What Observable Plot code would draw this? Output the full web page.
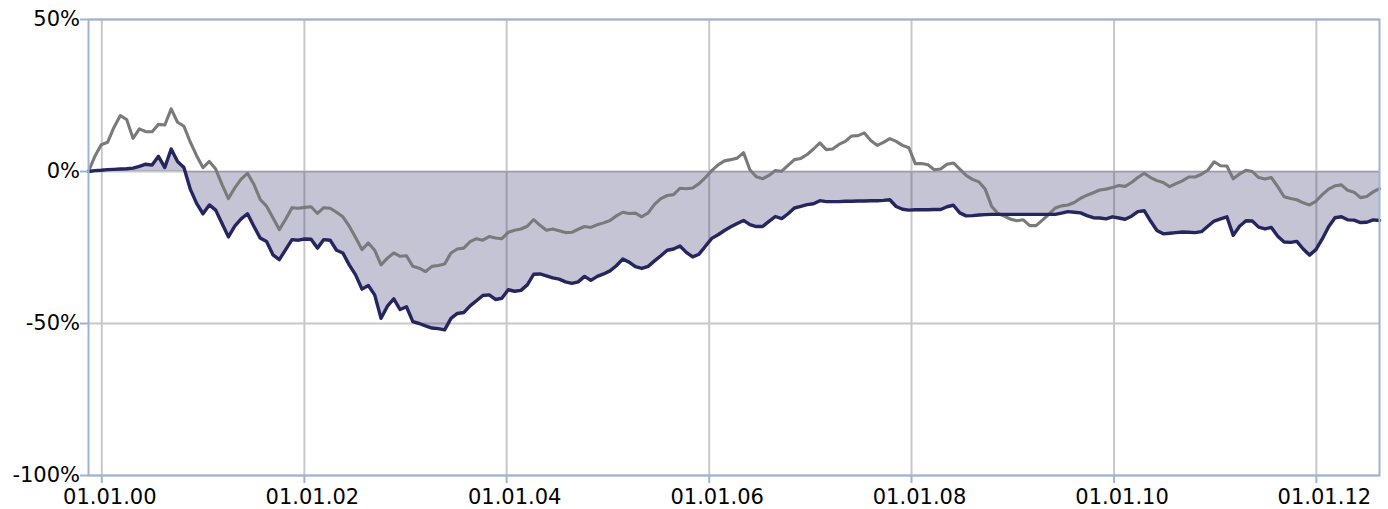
<!DOCTYPE html>
<html><head><meta charset="utf-8">
<script src="https://cdn.jsdelivr.net/npm/d3@7"></script>
<script src="https://cdn.jsdelivr.net/npm/@observablehq/plot@0.6"></script>
<style>body{margin:0;background:#fff} svg{display:block}</style>
</head><body><div id="chart"></div>
<script>
const startDate = "1999-11-14";
const stepDays = 22.95;
const grayValues = [
0,5.0,8.8,9.6,14.5,18.4,17.1,10.9,14.0,13.1,13.1,15.5,15.3,20.6,16.2,14.9,9.7,5.2,1.3,3.3,
0.8,-4.3,-8.9,-5.4,-2.5,-0.6,-4.2,-9.2,-11.4,-15.2,-19.1,-15.7,-11.9,-12.1,-11.8,-11.6,-13.8,-11.9,-12.1,-13.4,
-14.9,-18.0,-21.7,-25.7,-23.5,-25.9,-30.7,-28.5,-26.8,-27.9,-27.7,-31.2,-31.8,-32.9,-31.2,-30.9,-30.4,-26.8,-25.5,-25.2,
-23.1,-22.1,-22.6,-21.4,-21.9,-22.1,-20.0,-19.3,-18.9,-18.0,-15.8,-17.7,-19.3,-18.9,-19.5,-20.1,-20.0,-19.0,-18.1,-18.4,
-17.5,-16.9,-16.1,-14.6,-13.4,-13.8,-13.7,-14.9,-13.6,-10.8,-8.9,-7.9,-7.6,-5.5,-5.7,-5.4,-4.0,-2.0,0.3,2.2,
3.5,3.9,4.4,6.2,0.6,-1.7,-2.4,-1.3,0.3,0.1,2.0,3.9,4.3,5.6,7.4,9.4,7.2,7.4,8.9,9.9,
11.7,11.8,12.7,10.2,8.6,9.6,10.8,9.9,8.6,7.8,2.6,2.6,2.2,0.6,0.8,2.4,2.8,0.8,-1.3,-2.6,
-3.4,-5.8,-11.4,-13.8,-14.7,-15.7,-16.2,-15.9,-17.8,-17.8,-16.0,-14.1,-12.0,-11.3,-11.0,-10.2,-8.8,-7.8,-7.0,-6.1,
-5.8,-5.3,-4.6,-4.9,-3.6,-2.0,-0.6,-2.0,-3.0,-3.6,-5.0,-4.0,-3.1,-1.8,-1.8,-0.9,0.4,3.2,1.9,1.8,
-2.4,-0.8,0.4,0.0,-2.0,-2.5,-2.0,-5.0,-8.3,-8.9,-9.3,-10.3,-11.0,-9.8,-7.6,-5.8,-4.7,-4.4,-6.2,-6.8,
-8.6,-8.2,-6.7,-5.6
];
const navyValues = [
0,0.3,0.4,0.6,0.7,0.8,0.9,1.1,1.7,2.4,2.1,5.0,1.3,7.4,3.3,1.3,-5.8,-10.5,-13.9,-11.0,
-12.7,-17.1,-21.5,-18.0,-15.6,-13.9,-18.0,-21.9,-23.0,-27.4,-29.0,-25.7,-22.4,-22.6,-22.2,-22.3,-25.2,-22.4,-22.6,-25.9,
-26.8,-30.7,-34.0,-38.7,-37.5,-40.6,-48.3,-44.3,-41.9,-45.4,-44.5,-49.4,-50.0,-50.8,-51.5,-51.7,-52.1,-48.3,-46.7,-46.4,
-44.2,-42.5,-40.8,-40.6,-42.1,-41.7,-38.9,-39.4,-39.1,-37.3,-33.8,-33.7,-34.3,-35.0,-35.4,-36.3,-36.8,-36.3,-34.5,-35.8,
-34.5,-33.7,-32.7,-31.0,-28.8,-29.8,-31.3,-31.9,-31.2,-29.4,-27.7,-25.9,-25.5,-24.5,-26.6,-28.1,-27.2,-24.6,-22.0,-20.8,
-19.4,-18.2,-17.1,-16.1,-17.5,-18.1,-18.1,-16.4,-14.8,-15.5,-13.9,-12.0,-11.5,-10.9,-10.6,-9.6,-9.9,-9.9,-9.9,-9.8,
-9.8,-9.7,-9.7,-9.6,-9.6,-9.5,-9.3,-11.5,-12.4,-12.7,-12.6,-12.6,-12.6,-12.5,-12.5,-11.6,-11.1,-13.6,-14.6,-14.5,
-14.3,-14.2,-14.1,-14.1,-14.1,-14.1,-14.1,-14.1,-14.1,-14.1,-14.1,-14.1,-14.1,-13.7,-13.2,-13.4,-13.6,-14.5,-15.2,-15.3,
-15.6,-14.9,-15.3,-15.7,-14.7,-13.2,-12.9,-16.3,-19.4,-20.5,-20.3,-20.1,-19.9,-20.0,-20.1,-19.8,-18.0,-16.3,-15.6,-14.9,
-21.0,-18.0,-16.2,-16.3,-18.3,-18.9,-18.4,-21.3,-23.2,-23.3,-23.0,-25.5,-27.5,-25.7,-22.2,-18.2,-15.2,-14.9,-15.9,-16.0,
-16.8,-16.7,-15.9,-16.1
];
const xTickYears = [2000, 2002, 2004, 2006, 2008, 2010, 2012];
const yTicks = [50, 0, -50, -100];

const t0 = Date.parse(startDate + "T00:00:00Z");
const dates = grayValues.map((_, i) => new Date(t0 + i * stepDays * 864e5));
const rows = dates.map((d, i) => ({date: d, gray: grayValues[i], navy: navyValues[i]}));
const xTicks = xTickYears.map(y => new Date(Date.UTC(y, 0, 1)));

const frameColor = "#9fb3d9";
const gridColor = "#c8c8c8";
const plot = Plot.plot({
  width: 1388, height: 509,
  marginLeft: 88, marginRight: 9, marginTop: 19, marginBottom: 34,
  style: {fontFamily: "DejaVu Sans", fontSize: "21px", color: "#000", background: "#fff", overflow: "visible"},
  x: {type: "utc", domain: [dates[0], dates[dates.length - 1]]},
  y: {domain: [-100, 50]},
  marks: [
    Plot.ruleX(xTicks, {stroke: gridColor, strokeWidth: 2}),
    Plot.ruleY(yTicks, {stroke: gridColor, strokeWidth: 2}),
    Plot.areaY(rows, {x: "date", y1: 0, y2: "navy", fill: "#24245f", fillOpacity: 0.27}),
    Plot.lineY(rows, {x: "date", y: "gray", stroke: "#7a7a7a", strokeWidth: 3.1}),
    Plot.lineY(rows, {x: "date", y: "navy", stroke: "#25255f", strokeWidth: 3.4}),
    Plot.frame({stroke: frameColor, strokeWidth: 2}),
    Plot.axisX({ticks: xTicks, tickFormat: () => "", tickSize: 8, stroke: frameColor, strokeWidth: 2, label: null}),
    Plot.axisX({ticks: xTicks, tickFormat: d3.utcFormat("%d.%m.%y"), tickSize: 0, tickPadding: 14, dx: 8, fill: "#000", label: null}),
    Plot.axisY({ticks: yTicks, tickFormat: d => d + "%", tickSize: 8, tickPadding: 0.5, stroke: frameColor, strokeWidth: 2, fill: "#000", label: null})
  ]
});
document.getElementById("chart").appendChild(plot);
</script>
</body></html>
